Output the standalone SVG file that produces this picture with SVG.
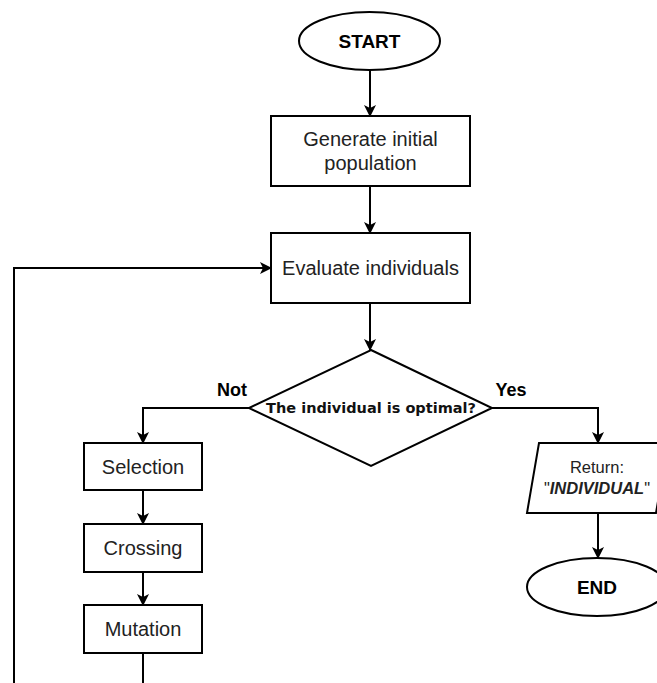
<svg xmlns="http://www.w3.org/2000/svg" width="657" height="683" viewBox="0 0 657 683">
  <defs>
    <marker id="arrow" viewBox="0 0 12 12" refX="11" refY="6" markerWidth="12" markerHeight="12" markerUnits="userSpaceOnUse" orient="auto">
      <path d="M0,0 L12,6 L0,12 L3,6 Z" fill="#000"/>
    </marker>
    <style>
      .shape { fill: #fff; stroke: #000; stroke-width: 2; }
      .edge { fill: none; stroke: #000; stroke-width: 2; }
      .arr { marker-end: url(#arrow); }
      .txt { font-family: "Liberation Sans", Arial, sans-serif; font-size: 20px; fill: #222; text-anchor: middle; dominant-baseline: central; }
      .term { font-family: "Liberation Sans", Arial, sans-serif; font-size: 19px; font-weight: bold; fill: #000; text-anchor: middle; dominant-baseline: central; }
      .lbl { font-family: "Liberation Sans", Arial, sans-serif; font-size: 18px; font-weight: bold; fill: #000; text-anchor: middle; dominant-baseline: central; }
      .cond { font-family: "DejaVu Sans", Verdana, sans-serif; font-size: 14.5px; font-weight: bold; fill: #111; text-anchor: middle; dominant-baseline: central; }
      .ret { font-family: "Liberation Sans", Arial, sans-serif; font-size: 16.5px; fill: #222; text-anchor: middle; dominant-baseline: central; }
    </style>
  </defs>

  <rect width="657" height="683" fill="#fff"/>

  <!-- connectors -->
  <g id="edges">
    <line class="edge arr" x1="370" y1="70" x2="370" y2="116"/>
    <line class="edge arr" x1="370" y1="186" x2="370" y2="233"/>
    <line class="edge arr" x1="370" y1="303" x2="370" y2="350"/>
    <polyline class="edge arr" points="249,408 143,408 143,443"/>
    <line class="edge arr" x1="143" y1="490" x2="143" y2="524"/>
    <line class="edge arr" x1="143" y1="572" x2="143" y2="605"/>
    <polyline class="edge" points="143,653 143,683"/>
    <polyline class="edge arr" points="14,683 14,268 271,268"/>
    <polyline class="edge arr" points="492,408 598,408 598,443"/>
    <line class="edge arr" x1="598" y1="513" x2="598" y2="558"/>
    <text class="lbl" x="232" y="390">Not</text>
    <text class="lbl" x="511" y="390">Yes</text>
  </g>

  <g id="start">
    <ellipse class="shape" cx="369.5" cy="41" rx="70.5" ry="29"/>
    <text class="term" x="369.5" y="41">START</text>
  </g>

  <g id="generate">
    <rect class="shape" x="271" y="116" width="199" height="70"/>
    <text class="txt" x="370.5" y="139">Generate initial</text>
    <text class="txt" x="370.5" y="163">population</text>
  </g>

  <g id="evaluate">
    <rect class="shape" x="271" y="233" width="199" height="70"/>
    <text class="txt" x="370.5" y="268">Evaluate individuals</text>
  </g>

  <g id="decision">
    <polygon class="shape" points="371,350 492,408 371,466 249,408"/>
    <text class="cond" x="371" y="408">The individual is optimal?</text>
  </g>

  <g id="selection">
    <rect class="shape" x="84" y="443" width="118" height="47"/>
    <text class="txt" x="143" y="467">Selection</text>
  </g>

  <g id="crossing">
    <rect class="shape" x="84" y="524" width="118" height="48"/>
    <text class="txt" x="143" y="548">Crossing</text>
  </g>

  <g id="mutation">
    <rect class="shape" x="84" y="605" width="118" height="48"/>
    <text class="txt" x="143" y="629">Mutation</text>
  </g>

  <g id="return">
    <polygon class="shape" points="539,443 668,443 656,513 527,513"/>
    <text class="ret" x="597" y="467">Return:</text>
    <text class="ret" x="597" y="488">"<tspan font-weight="bold" font-style="italic">INDIVIDUAL</tspan>"</text>
  </g>

  <g id="end">
    <ellipse class="shape" cx="597" cy="587" rx="70" ry="29"/>
    <text class="term" x="597" y="587">END</text>
  </g>
</svg>
